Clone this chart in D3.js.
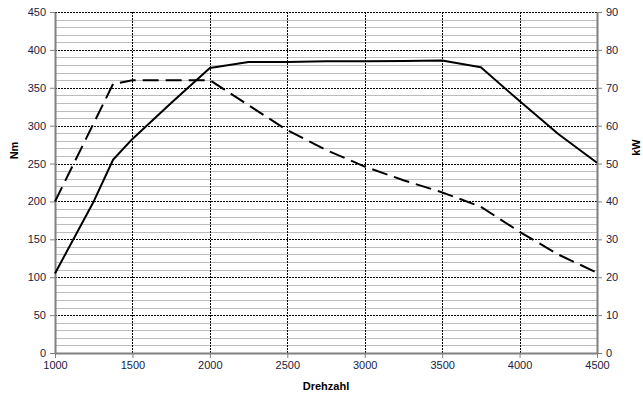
<!DOCTYPE html>
<html>
<head>
<meta charset="utf-8">
<script src="https://cdn.jsdelivr.net/npm/d3@7"></script>
<style>
  body { margin: 0; background: #fff; }
  text { font-family: "Liberation Sans", Arial, sans-serif; }
</style>
</head>
<body>
<svg id="chart"></svg>
<script>
// rpm samples
const rpmTorque = [1000, 1375, 1500, 2000, 2250, 2500, 2750, 3000, 3250, 3500, 3750, 4000, 4250, 4500];
const torqueNm  = [200, 355, 360, 360, 327, 294, 268, 246, 228, 212, 193, 160, 130, 106];
const rpmPower  = [1000, 1250, 1375, 1500, 1750, 2000, 2250, 2500, 2750, 3000, 3250, 3500, 3750, 4000, 4250, 4500];
const powerKw   = [21, 40, 51, 56.5, 66, 75.2, 76.8, 76.8, 77, 77, 77.1, 77.2, 75.4, 66.5, 57.8, 50.2];
const xTicks = [1000, 1500, 2000, 2500, 3000, 3500, 4000, 4500];
const yLeftTicks = [0, 50, 100, 150, 200, 250, 300, 350, 400, 450];
const yRightTicks = [0, 10, 20, 30, 40, 50, 60, 70, 80, 90];

const W = 643, H = 396;
const m = {left: 55, right: 46, top: 12, bottom: 43};

const svg = d3.select('#chart')
  .attr('width', W)
  .attr('height', H);

const x = d3.scaleLinear().domain([1000, 4500]).range([m.left, W - m.right]);
const yL = d3.scaleLinear().domain([0, 450]).range([H - m.bottom, m.top]);
const yR = d3.scaleLinear().domain([0, 90]).range([H - m.bottom, m.top]);

// minor gridlines every 10 Nm
const minor = d3.range(0, 451, 10).filter(v => v % 50 !== 0);
svg.append('g')
  .selectAll('line')
  .data(minor)
  .join('line')
  .attr('x1', m.left).attr('x2', W - m.right)
  .attr('y1', d => Math.round(yL(d)) + 0.5)
  .attr('y2', d => Math.round(yL(d)) + 0.5)
  .attr('stroke', '#bdbdbd')
  .attr('stroke-width', 1);

// major gridlines (dashed)
svg.append('g')
  .selectAll('line')
  .data(yLeftTicks.filter(v => v > 0))
  .join('line')
  .attr('x1', m.left).attr('x2', W - m.right)
  .attr('y1', d => Math.round(yL(d)) + 0.5)
  .attr('y2', d => Math.round(yL(d)) + 0.5)
  .attr('stroke', '#000')
  .attr('stroke-width', 1)
  .attr('stroke-dasharray', '2,1');

svg.append('g')
  .selectAll('line')
  .data(xTicks.slice(1, -1))
  .join('line')
  .attr('x1', d => Math.round(x(d)) + 0.5)
  .attr('x2', d => Math.round(x(d)) + 0.5)
  .attr('y1', m.top).attr('y2', H - m.bottom)
  .attr('stroke', '#000')
  .attr('stroke-width', 1)
  .attr('stroke-dasharray', '2,1');

// axes
const axisL = d3.axisLeft(yL).tickValues(yLeftTicks).tickSize(5).tickPadding(4);
const axisR = d3.axisRight(yR).tickValues(yRightTicks).tickSize(5).tickPadding(4);
const axisB = d3.axisBottom(x).tickValues(xTicks).tickFormat(d3.format('d')).tickSize(5).tickPadding(3);

function styleAxis(g) {
  g.select('.domain').attr('stroke', '#808080').attr('stroke-width', 2);
  g.selectAll('.tick line').attr('stroke', '#808080');
  g.selectAll('.tick text')
    .attr('font-size', 11)
    .attr('fill', '#1a1a40')
    .attr('font-family', '"Liberation Sans", Arial, sans-serif');
}

svg.append('g')
  .attr('transform', `translate(${m.left},0)`)
  .call(axisL.tickSizeOuter(0))
  .call(styleAxis);

svg.append('g')
  .attr('transform', `translate(${W - m.right},0)`)
  .call(axisR.tickSizeOuter(0))
  .call(styleAxis);

svg.append('g')
  .attr('transform', `translate(0,${H - m.bottom})`)
  .call(axisB.tickSizeOuter(0))
  .call(styleAxis);

// curves
const torqueLine = d3.line()
  .x((d, i) => x(rpmTorque[i]))
  .y(d => yL(d));
const powerLine = d3.line()
  .x((d, i) => x(rpmPower[i]))
  .y(d => yR(d));

svg.append('path')
  .datum(torqueNm)
  .attr('fill', 'none')
  .attr('stroke', '#000')
  .attr('stroke-width', 2)
  .attr('stroke-dasharray', '16,7')
  .attr('d', torqueLine);

svg.append('path')
  .datum(powerKw)
  .attr('fill', 'none')
  .attr('stroke', '#000')
  .attr('stroke-width', 2)
  .attr('stroke-linejoin', 'round')
  .attr('d', powerLine);

// axis titles
svg.append('text')
  .attr('transform', `translate(18,${(m.top + H - m.bottom) / 2 - 32}) rotate(-90)`)
  .attr('text-anchor', 'middle')
  .attr('font-size', 11)
  .attr('font-weight', 'bold')
  .text('Nm');

svg.append('text')
  .attr('transform', `translate(640,${(m.top + H - m.bottom) / 2 - 35}) rotate(-90)`)
  .attr('text-anchor', 'middle')
  .attr('font-size', 11)
  .attr('font-weight', 'bold')
  .text('kW');

svg.append('text')
  .attr('x', (m.left + W - m.right) / 2)
  .attr('y', 390)
  .attr('text-anchor', 'middle')
  .attr('font-size', 11)
  .attr('font-weight', 'bold')
  .text('Drehzahl');
</script>
</body>
</html>
